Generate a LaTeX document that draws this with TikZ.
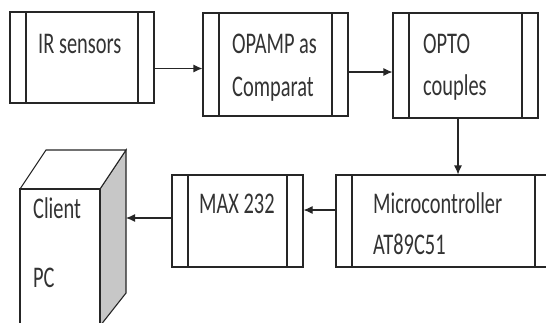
\documentclass[tikz,border=0pt]{standalone}
\usepackage{fontspec}
\setmainfont[FakeStretch=0.68]{Carlito}
\usetikzlibrary{arrows.meta}
\definecolor{ink}{gray}{0.2}
\definecolor{side}{gray}{0.78}
\tikzstyle{block}=[rectangle,draw=black!85,line width=1.1pt,inner sep=0pt,
	path picture={\draw[black!85,line width=1.1pt]
		([xshift=16pt]path picture bounding box.north west)--([xshift=16pt]path picture bounding box.south west)
		([xshift=-16pt]path picture bounding box.north east)--([xshift=-16pt]path picture bounding box.south east);}]
\tikzstyle{txt}=[anchor=base west,inner sep=0pt,text=ink,font=\fontsize{30}{30}\selectfont]
\tikzstyle{arr}=[draw=black!85,line width=1.1pt,-{Latex[length=9pt,width=8pt]}]

\begin{document}
\begin{tikzpicture}[x=1pt,y=-1pt]
			\fill [white] (0,0) rectangle (546,322);
			\useasboundingbox (0,0) rectangle (546,322);

			\node (ir) at (82,57.5) [block,minimum width=144pt,minimum height=91pt] {};
			\node (opamp) at (275.5,64.5) [block,minimum width=145pt,minimum height=103pt] {};
			\node (opto) at (465.5,65.5) [block,minimum width=145pt,minimum height=105pt] {};
			\node (mcu) at (443.5,221) [block,minimum width=215pt,minimum height=92pt] {};
			\node (max) at (237.5,221) [block,minimum width=131pt,minimum height=92pt] {};

			\node (irtext) at (38,53) [txt] {IR sensors};
			\node (opamptext) at (232,53) [txt] {OPAMP as};
			\node (opamptext2) at (232,96) [txt] {Comparat};
			\node (optotext) at (423,53) [txt] {OPTO};
			\node (optotext2) at (423,95) [txt] {couples};
			\node (mcutext) at (373,213) [txt] {Microcontroller};
			\node (mcutext2) at (373,254) [txt] {AT89C51};
			\node (maxtext) at (199,213) [txt] {MAX 232};

			% the client PC box
			\filldraw [fill=side,draw=black!85,line width=1.1pt] (100,189)--(126,150)--(126,293)--(100,326)--cycle;
			\draw [fill=white,draw=black!85,line width=1.1pt] (20,189)--(46,150)--(126,150)--(100,189)--cycle;
			\node (pc) at (60,257.5) [rectangle,draw=black!85,line width=1.1pt,fill=white,minimum width=80pt,minimum height=137pt] {};
			\coordinate (pcside) at (126,218);
			\node (pctext) at (33,218) [txt] {Client};
			\node (pctext2) at (33,287) [txt] {PC};

			\draw [arr] ([yshift=-11pt]ir.east) -- ([yshift=-11pt]ir.east -| opamp.west);
			\draw [arr] ([yshift=-7.5pt]opamp.east) -- ([yshift=-7.5pt]opamp.east -| opto.west);
			\draw [arr] ([xshift=-7.5pt]opto.south) -- ([xshift=-7.5pt]opto.south |- mcu.north);
			\draw [arr] ([yshift=11pt]mcu.west) -- ([yshift=11pt]mcu.west -| max.east);
			\draw [arr] ([yshift=3pt]max.west) -- (pcside);
		\end{tikzpicture}
\end{document}
